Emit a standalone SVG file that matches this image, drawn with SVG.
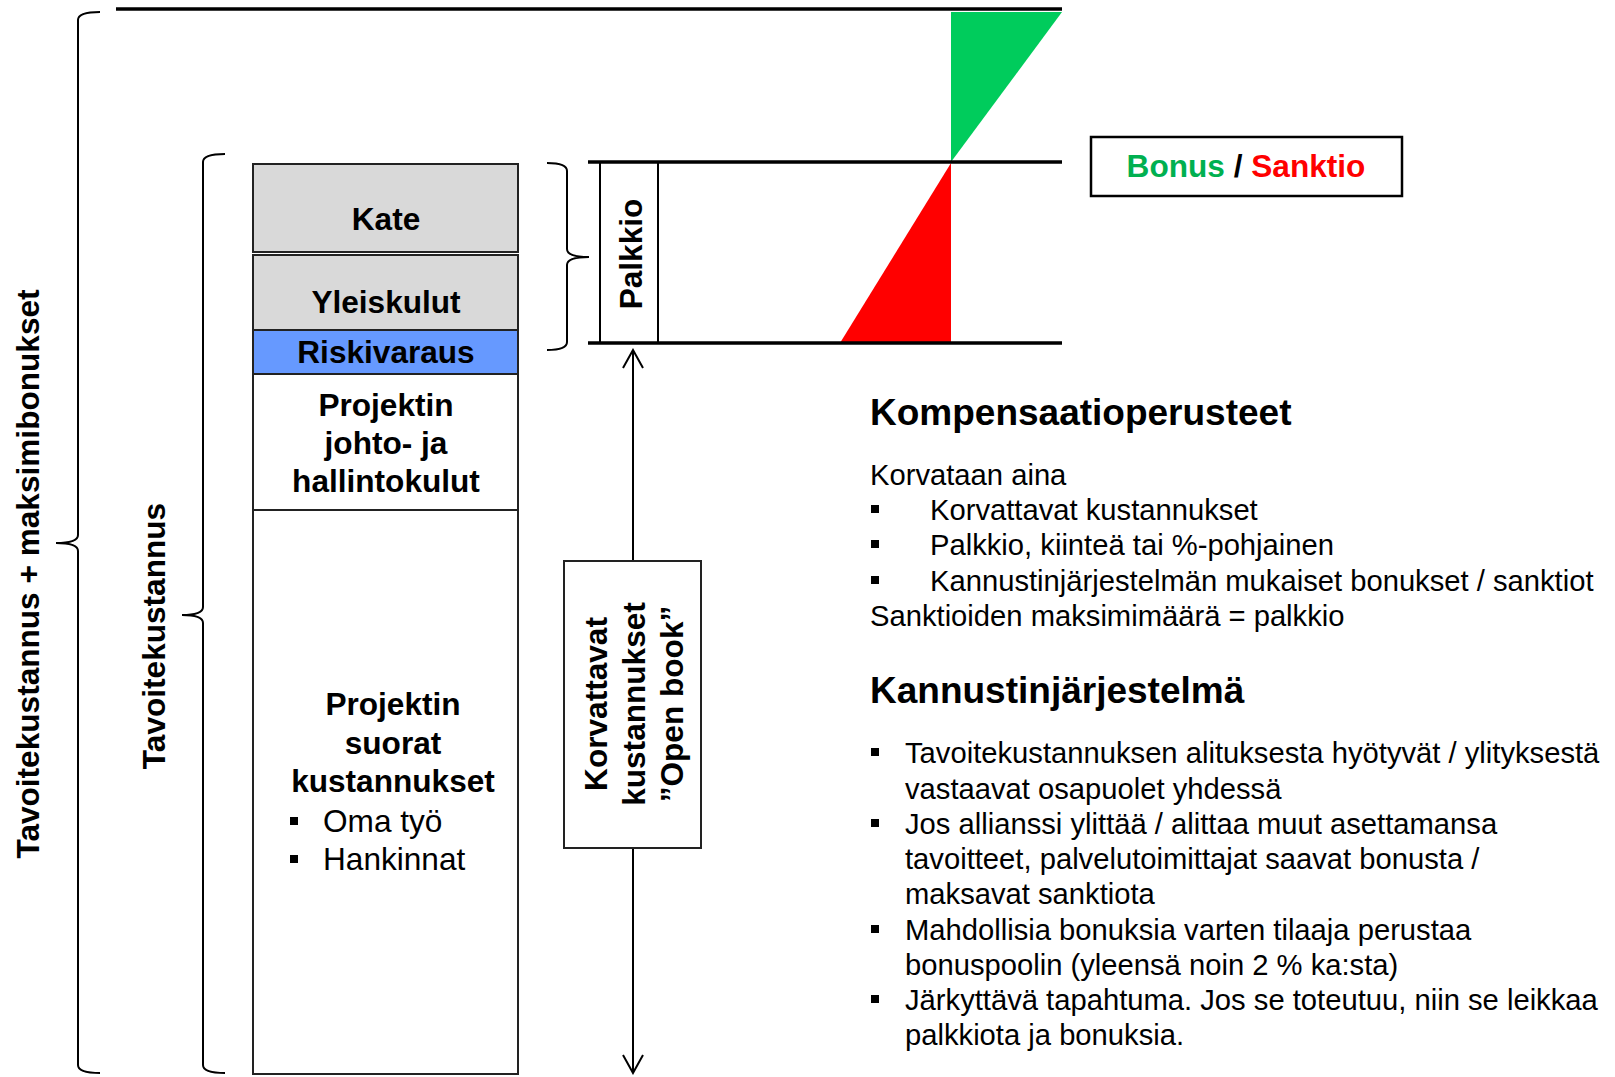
<svg xmlns="http://www.w3.org/2000/svg" width="1615" height="1077" viewBox="0 0 1615 1077">
<style>
text{font-family:"Liberation Sans",Arial,sans-serif;fill:#000}
.b{font-weight:bold;font-size:31.6px}
.bc{font-weight:bold;font-size:31.6px;text-anchor:middle}
.r{font-size:31.6px}
.t{font-size:29.2px}
.h{font-weight:bold;font-size:37px}
.box{stroke:#222;stroke-width:2}
.thick{stroke:#000;stroke-width:3.5;fill:none}
.brk{stroke:#000;stroke-width:2;fill:none}
.ln{stroke:#000;stroke-width:2;fill:none}
</style>
<defs>
<marker id="oa" viewBox="0 0 24 24" refX="22" refY="12" markerWidth="24" markerHeight="24" markerUnits="userSpaceOnUse" orient="auto-start-reverse">
<path d="M4,2 L22,12 L4,22" fill="none" stroke="#000" stroke-width="2"/>
</marker>
</defs>
<rect width="1615" height="1077" fill="#fff"/>

<g id="bracket-outer">
<path class="brk" d="M100,12 Q78,12 78,20 L78,535 Q78,543 56,543 Q78,543 78,551 L78,1065 Q78,1073 100,1073"/>
<text class="bc" transform="translate(39,574) rotate(-90)">Tavoitekustannus + maksimibonukset</text>
</g>
<g id="bracket-inner">
<path class="brk" d="M225,154 Q203,154 203,162 L203,607 Q203,615 182,615 Q203,615 203,623 L203,1065 Q203,1073 225,1073"/>
<text class="bc" transform="translate(165,636) rotate(-90)">Tavoitekustannus</text>
</g>
<g id="bracket-palkkio">
<path class="brk" d="M547,163 Q567,163 567,171 L567,249 Q567,257 589,257 Q567,257 567,265 L567,342 Q567,350 547,350"/>
</g>

<g id="kate">
<rect class="box" x="253" y="164" width="265" height="88" fill="#d9d9d9"/>
<text class="bc" x="386" y="230">Kate</text>
</g>
<g id="yleiskulut">
<rect class="box" x="253" y="255" width="265" height="75" fill="#d9d9d9"/>
<text class="bc" x="386" y="313">Yleiskulut</text>
</g>
<g id="riskivaraus">
<rect class="box" x="253" y="330" width="265" height="44" fill="#6699ff"/>
<text class="bc" x="386" y="363">Riskivaraus</text>
</g>
<g id="johto">
<rect class="box" x="253" y="374" width="265" height="136" fill="#fff"/>
<text class="bc" x="386" y="416">Projektin</text>
<text class="bc" x="386" y="454">johto- ja</text>
<text class="bc" x="386" y="492">hallintokulut</text>
</g>
<g id="suorat">
<rect class="box" x="253" y="510" width="265" height="564" fill="#fff"/>
<text class="bc" x="393" y="715">Projektin</text>
<text class="bc" x="393" y="754">suorat</text>
<text class="bc" x="393" y="792">kustannukset</text>
<rect x="290" y="817" width="8" height="8" fill="#000"/>
<text class="r" x="323" y="832">Oma työ</text>
<rect x="290" y="855" width="8" height="8" fill="#000"/>
<text class="r" x="323" y="870">Hankinnat</text>
</g>

<g id="levels">
<line class="thick" x1="116" y1="9" x2="1062" y2="9"/>
<polygon points="951,12 1062,12 951,162" fill="#00cc5c"/>
<polygon points="951,163 951,343 840,343" fill="#ff0000"/>
<line class="thick" x1="588" y1="162" x2="1062" y2="162"/>
<line class="thick" x1="588" y1="343" x2="1062" y2="343"/>
</g>

<g id="palkkio">
<line class="ln" x1="600" y1="162" x2="600" y2="343"/>
<line class="ln" x1="658" y1="162" x2="658" y2="343"/>
<text class="bc" transform="translate(642,254) rotate(-90)">Palkkio</text>
</g>

<g id="connectors">
<line class="ln" x1="633" y1="350" x2="633" y2="1073" marker-start="url(#oa)" marker-end="url(#oa)"/>
</g>

<g id="korvattavat">
<rect class="box" x="564" y="561" width="137" height="287" fill="#fff"/>
<text class="bc" transform="translate(607,704) rotate(-90)">Korvattavat</text>
<text class="bc" transform="translate(645,704) rotate(-90)">kustannukset</text>
<text class="bc" transform="translate(683,704) rotate(-90)">”Open book”</text>
</g>

<g id="bonus-sanktio">
<rect x="1091" y="137" width="311" height="59" fill="#fff" stroke="#000" stroke-width="2.5"/>
<text class="bc" x="1246" y="177"><tspan fill="#00b050">Bonus</tspan> / <tspan fill="#ff0000">Sanktio</tspan></text>
</g>

<g id="kompensaatio">
<text class="h" x="870" y="425">Kompensaatioperusteet</text>
<text class="t" x="870" y="485">Korvataan aina</text>
<rect x="871" y="505" width="8" height="8"/>
<text class="t" x="930" y="520">Korvattavat kustannukset</text>
<rect x="871" y="540" width="8" height="8"/>
<text class="t" x="930" y="555">Palkkio, kiinteä tai %-pohjainen</text>
<rect x="871" y="576" width="8" height="8"/>
<text class="t" x="930" y="591">Kannustinjärjestelmän mukaiset bonukset / sanktiot</text>
<text class="t" x="870" y="626">Sanktioiden maksimimäärä = palkkio</text>
</g>

<g id="kannustin">
<text class="h" x="870" y="703">Kannustinjärjestelmä</text>
<rect x="871" y="748" width="8" height="8"/>
<text class="t" x="905" y="763">Tavoitekustannuksen alituksesta hyötyvät / ylityksestä</text>
<text class="t" x="905" y="799">vastaavat osapuolet yhdessä</text>
<rect x="871" y="819" width="8" height="8"/>
<text class="t" x="905" y="834">Jos allianssi ylittää / alittaa muut asettamansa</text>
<text class="t" x="905" y="869">tavoitteet, palvelutoimittajat saavat bonusta /</text>
<text class="t" x="905" y="904">maksavat sanktiota</text>
<rect x="871" y="925" width="8" height="8"/>
<text class="t" x="905" y="940">Mahdollisia bonuksia varten tilaaja perustaa</text>
<text class="t" x="905" y="975">bonuspoolin (yleensä noin 2 % ka:sta)</text>
<rect x="871" y="995" width="8" height="8"/>
<text class="t" x="905" y="1010">Järkyttävä tapahtuma. Jos se toteutuu, niin se leikkaa</text>
<text class="t" x="905" y="1045">palkkiota ja bonuksia.</text>
</g>
</svg>
